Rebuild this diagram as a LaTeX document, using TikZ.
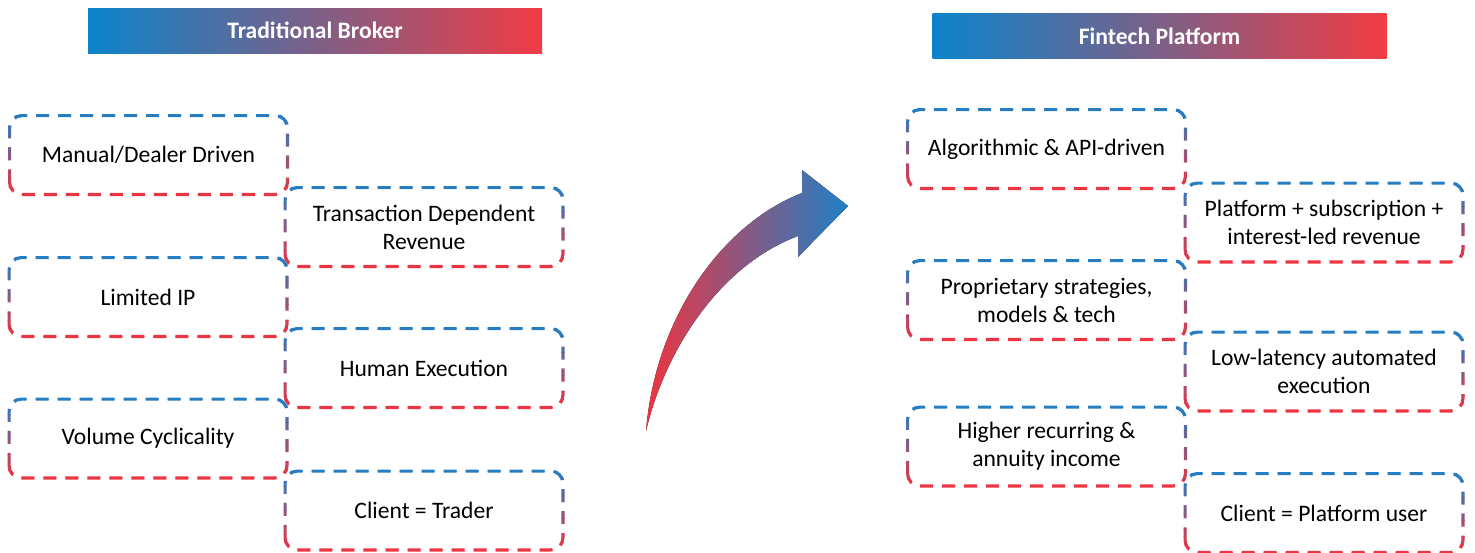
\documentclass[tikz,border=0pt]{standalone}
\usepackage{fontspec}
\setmainfont{Carlito}
\usetikzlibrary{calc}
\definecolor{lineblue}{HTML}{1F80C6}
\definecolor{linered}{HTML}{EE3441}
\definecolor{barblue}{HTML}{0A84CB}
\definecolor{barred}{HTML}{F03C44}
\tikzset{
  itembox/.style={minimum width=138.5pt,minimum height=39pt,inner sep=2pt,align=center,
    font=\fontsize{11.8}{14}\selectfont},
  titlebar/.style={minimum width=227pt,minimum height=22.5pt,inner sep=0pt,
    left color=barblue,right color=barred,text=white,font=\fontsize{11.8}{13}\selectfont\bfseries},
  dashborder/.style={line width=1.6pt,dash pattern=on 6.5pt off 4.5pt,rounded corners=6pt},
  bigarrow/.style={left color=linered,right color=lineblue,draw=none}
}
% dashed rounded border, blue at the top fading to red at the bottom
\newcommand{\gradborder}[1]{%
  \foreach \k in {0,...,11}{%
    \pgfmathsetmacro{\blend}{max(0,min(100,100-(\k-0.5)*10))}
    \begin{scope}
      \clip ($(#1.north west)!{(\k-1)/10}!(#1.south west)+(-6,0)$) rectangle
            ($(#1.north east)!{\k/10}!(#1.south east)+(6,0)$);
      \draw[dashborder,draw=lineblue!\blend!linered] (#1.south west) rectangle (#1.north east);
    \end{scope}}}

\begin{document}
\begin{tikzpicture}[x=0.5pt,y=-0.5pt]
  \useasboundingbox (0,0) rectangle (1475,552);

  % headers
  \node[titlebar] (tradbar) at (315,30.5) {Traditional Broker};
  \node[titlebar] (finbar) at (1159.5,36) {Fintech Platform};

  % traditional broker
  \node[itembox] (manual) at (148.5,155) {Manual/Dealer Driven};
  \node[itembox] (txnrev) at (424,227) {Transaction Dependent\\Revenue};
  \node[itembox] (limip) at (148,297) {Limited IP};
  \node[itembox] (humexec) at (424,368) {Human Execution};
  \node[itembox] (volcyc) at (148,438.5) {Volume Cyclicality};
  \node[itembox] (clienttrader) at (424,510.5) {Client = Trader};

  % fintech platform
  \node[itembox] (algo) at (1046.5,149) {Algorithmic \& API-driven};
  \node[itembox] (platrev) at (1324,222.5) {Platform + subscription +\\interest-led revenue};
  \node[itembox] (propstrat) at (1046.5,300) {Proprietary strategies,\\models \& tech};
  \node[itembox] (lowlat) at (1324,371.5) {Low-latency automated\\execution};
  \node[itembox] (recurring) at (1046.5,446.5) {Higher recurring \&\\annuity income};
  \node[itembox] (clientuser) at (1324,513) {Client = Platform user};

  \foreach \n in {manual,txnrev,limip,humexec,volcyc,clienttrader,
                  algo,platrev,propstrat,lowlat,recurring,clientuser}
    {\gradborder{\n}}

  % curved arrow
  \fill[bigarrow] (646,431) .. controls (655,320) and (720,225) .. (802,193)
    -- (802,170) -- (848,206) -- (798,257) -- (798,236)
    .. controls (720,265) and (665,350) .. (646,431) -- cycle;
\end{tikzpicture}
\end{document}
